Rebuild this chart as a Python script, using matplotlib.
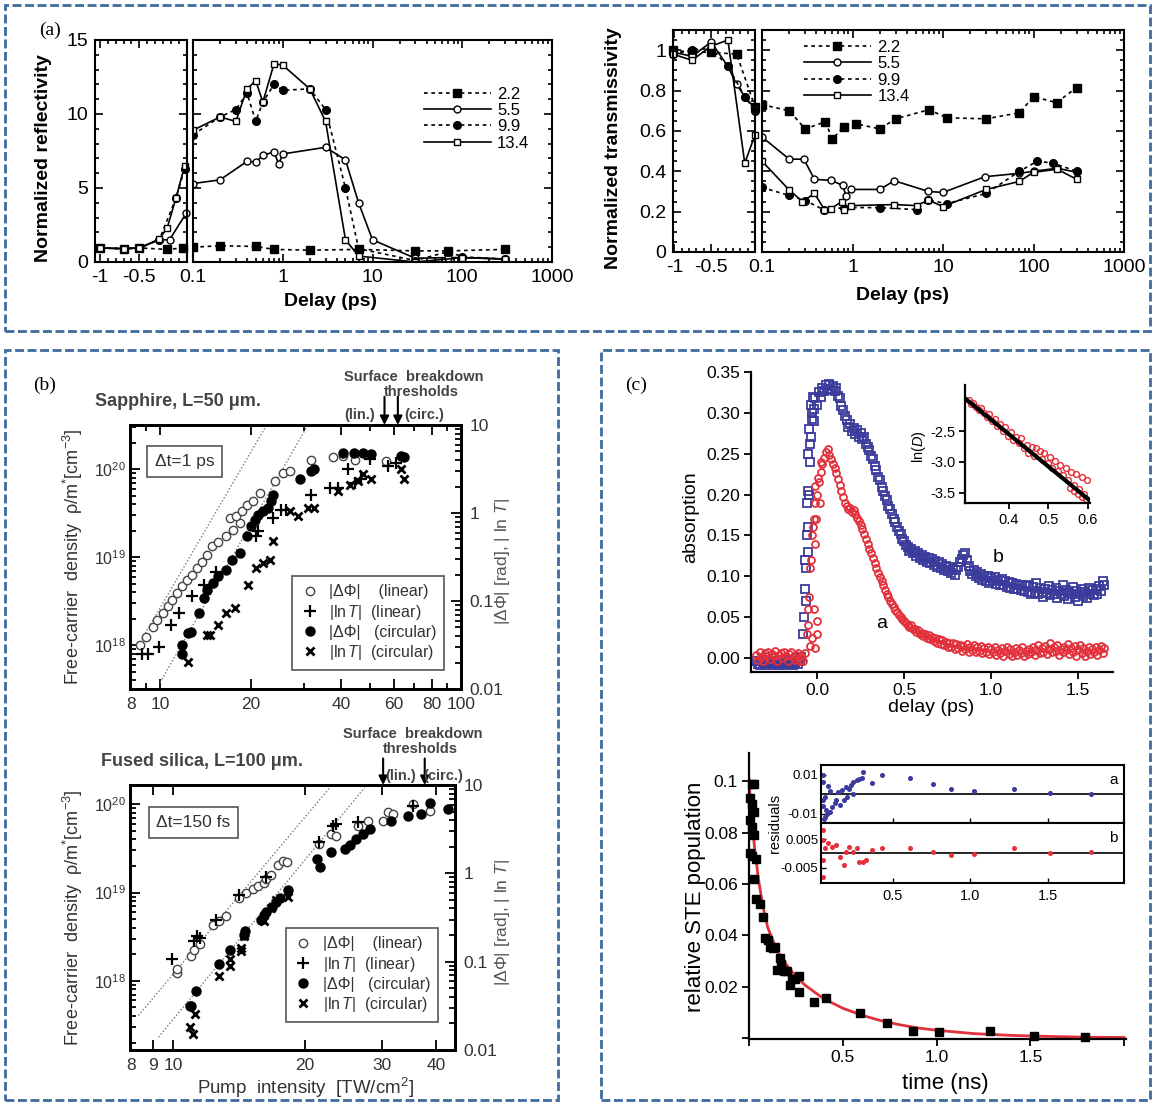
import numpy as np
import matplotlib
matplotlib.use('Agg')
import matplotlib.pyplot as plt
from matplotlib.patches import Rectangle
from matplotlib.ticker import MultipleLocator, NullFormatter, LogLocator, FixedLocator

plt.rcParams['font.family'] = ['Liberation Sans', 'DejaVu Sans']
plt.rcParams['mathtext.fontset'] = 'custom'
plt.rcParams['mathtext.rm'] = 'Liberation Sans'
plt.rcParams['mathtext.it'] = 'Liberation Sans:italic'
plt.rcParams['mathtext.bf'] = 'Liberation Sans:bold'
plt.rcParams['legend.numpoints'] = 1

# ---------------- (a) reflectivity / transmissivity vs delay ----------------
fluences = ['2.2', '5.5', '9.9', '13.4']

refl_neg_x = {'2.2': [-1.0, -0.7, -0.5, -0.15, 0.05],
              '5.5': [-1.0, -0.7, -0.5, -0.25, -0.12, 0.09],
              '9.9': [-1.0, -0.7, -0.5, -0.25, -0.04, 0.07],
              '13.4': [-1.0, -0.7, -0.5, -0.25, -0.15, -0.04, 0.07]}
refl_neg_y = {'2.2': [0.95, 0.9, 0.95, 0.85, 0.95],
              '5.5': [0.95, 0.9, 0.95, 1.5, 1.5, 3.3],
              '9.9': [0.95, 0.9, 0.95, 1.5, 4.3, 6.3],
              '13.4': [0.95, 0.9, 0.95, 1.55, 2.3, 4.3, 6.5]}
refl_pos_x = {'2.2': [0.1, 0.2, 0.5, 0.8, 2, 7, 30, 70, 300],
              '5.5': [0.1, 0.2, 0.4, 0.5, 0.6, 0.8, 0.9, 1.0, 3.0, 5.0, 7.0, 10, 30, 70, 100, 300],
              '9.9': [0.1, 0.2, 0.3, 0.4, 0.5, 0.6, 0.8, 1.0, 2.0, 3.0, 5.0, 7.0, 30, 70, 100, 300],
              '13.4': [0.1, 0.2, 0.3, 0.4, 0.5, 0.6, 0.8, 1.0, 2.0, 3.0, 5.0, 7.0, 30, 100, 300]}
refl_pos_y = {'2.2': [1.0, 1.1, 1.05, 0.85, 0.8, 0.85, 0.75, 0.75, 0.85],
              '5.5': [5.3, 5.55, 6.8, 6.75, 7.2, 7.45, 6.6, 7.3, 7.75, 6.9, 4.0, 1.5, 0.25, 0.3, 0.3, 0.2],
              '9.9': [8.6, 9.8, 10.3, 11.4, 9.5, 10.8, 12.0, 11.6, 11.7, 10.3, 5.0, 0.9, 0.1, 0.7, 0.35, 0.2],
              '13.4': [8.9, 9.8, 9.5, 11.7, 12.25, 10.8, 13.4, 13.3, 11.7, 9.5, 1.5, 0.4, 0.0, 0.3, 0.2]}

trans_neg_x = {'2.2': [-1.02, -0.76, -0.5, -0.15, 0.1],
               '5.5': [-1.02, -0.76, -0.5, -0.27, -0.15, -0.04, 0.1],
               '9.9': [-1.02, -0.76, -0.5, -0.27, -0.04, 0.1],
               '13.4': [-1.02, -0.76, -0.5, -0.27, -0.04, 0.1]}
trans_neg_y = {'2.2': [1.0, 0.99, 0.99, 0.98, 0.72],
               '5.5': [0.99, 0.97, 1.04, 0.92, 0.83, 0.77, 0.71],
               '9.9': [0.98, 1.0, 1.01, 0.92, 0.77, 0.7],
               '13.4': [0.98, 0.95, 1.02, 1.05, 0.44, 0.58]}
trans_pos_x = {'2.2': [0.1, 0.2, 0.3, 0.5, 0.6, 0.8, 1.1, 2.0, 3.0, 7.0, 11, 30, 70, 100, 180, 300],
               '5.5': [0.1, 0.2, 0.29, 0.38, 0.58, 0.78, 0.85, 0.97, 2.0, 2.9, 6.9, 10, 29, 70, 100, 183, 300],
               '9.9': [0.1, 0.2, 0.3, 0.49, 0.8, 2.0, 5.1, 6.9, 11, 30, 70, 110, 165, 300],
               '13.4': [0.1, 0.2, 0.28, 0.38, 0.49, 0.58, 0.76, 0.8, 0.97, 2.9, 5.1, 6.9, 10, 30, 70, 100, 183, 300]}
trans_pos_y = {'2.2': [0.73, 0.70, 0.61, 0.645, 0.56, 0.62, 0.635, 0.61, 0.66, 0.705, 0.665, 0.66, 0.69, 0.77, 0.74, 0.815],
               '5.5': [0.57, 0.46, 0.46, 0.36, 0.355, 0.33, 0.277, 0.31, 0.31, 0.353, 0.30, 0.295, 0.373, 0.39, 0.40, 0.415, 0.395],
               '9.9': [0.32, 0.28, 0.255, 0.208, 0.22, 0.22, 0.21, 0.257, 0.24, 0.29, 0.40, 0.45, 0.44, 0.40],
               '13.4': [0.45, 0.307, 0.25, 0.29, 0.21, 0.215, 0.25, 0.21, 0.23, 0.235, 0.23, 0.257, 0.225, 0.31, 0.35, 0.395, 0.41, 0.36]}

# ---------------- (b) free-carrier density vs pump intensity ----------------
sap_lin_phi_I = [8.58, 8.96, 9.46, 9.80, 10.2, 10.66, 11.0, 11.4, 11.86, 12.26, 12.73, 13.23, 13.74, 14.29, 14.84,
                 15.6, 16.56, 17.5, 18.4, 17.07, 17.95, 18.66, 19.5, 20.4, 21.5, 24.1, 25.6, 27.0, 31.8, 37.6, 40.5, 44.4, 56.5]
sap_lin_phi_rho = [1.01e18, 1.24e18, 1.64e18, 1.95e18, 2.32e18, 2.82e18, 3.3e18, 3.93e18, 4.68e18, 5.48e18, 6.36e18,
                   7.57e18, 8.87e18, 1.07e19, 1.34e19, 1.49e19, 1.74e19, 2.07e19, 2.47e19, 2.81e19, 2.94e19, 3.35e19,
                   3.99e19, 4.36e19, 5.42e19, 7.36e19, 9.16e19, 9.57e19, 1.28e20, 1.39e20, 1.42e20, 1.28e20, 1.24e20]
sap_lin_T_I = [8.7, 9.15, 9.95, 10.85, 11.6, 12.73, 14.0, 15.4, 20.9, 21.2, 23.8, 25.3, 26.3, 31.8, 36.6, 39.1, 42.2,
               44.4, 46.7, 49.8, 57.2, 61.0]
sap_lin_T_rho = [8.1e17, 8.1e17, 9.7e17, 1.71e18, 2.32e18, 3.66e18, 4.9e18, 6.9e18, 1.77e19, 1.98e19, 2.81e19, 3.5e19,
                 3.5e19, 5.19e19, 6.18e19, 6.18e19, 1.0e20, 7.05e19, 7.8e19, 1.3e20, 1.09e20, 1.19e20]
sap_circ_phi_I = [11.8, 11.8, 12.4, 12.7, 13.5, 14.0, 14.36, 15.0, 15.6, 16.6, 17.3, 18.4, 19.5, 20.0, 20.65, 21.2, 22.0,
                  22.9, 23.45, 23.8, 29.1, 31.8, 32.6, 40.5, 44.1, 47.2, 50.4, 63.4, 64.9]
sap_circ_phi_rho = [8.1e17, 1.0e18, 1.37e18, 1.44e18, 2.32e18, 3.44e18, 4.28e18, 5.1e18, 6.08e18, 7.25e18, 9.4e18,
                    1.12e19, 1.74e19, 2.26e19, 2.69e19, 3.07e19, 3.35e19, 3.66e19, 4.36e19, 5.19e19, 7.83e19, 9.57e19,
                    1.0e20, 1.55e20, 1.55e20, 1.55e20, 1.48e20, 1.44e20, 1.39e20]
sap_circ_T_I = [12.4, 14.29, 14.7, 15.6, 16.6, 17.7, 19.6, 20.9, 22.0, 23.2, 23.8, 27.0, 28.8, 31.0, 32.6, 39.1, 42.7,
                45.5, 47.2, 50.4, 63.4, 64.9]
sap_circ_T_rho = [6.5e17, 1.32e18, 1.32e18, 1.71e18, 2.32e18, 2.65e18, 4.9e18, 7.57e18, 8.6e18, 9.4e18, 1.52e19, 3.35e19,
                  2.94e19, 3.66e19, 3.66e19, 5.66e19, 6.74e19, 7.36e19, 8.77e19, 7.7e19, 1.0e20, 7.7e19]
sap_guide_I = [[8.47, 22.6], [10.0, 31.0]]
sap_guide_rho = [[1.0e18, 3.2e20], [3.8e17, 3.2e20]]
sap_thresholds = [55.7, 61.7]

fs_lin_phi_I = [10.2, 10.2, 11.0, 11.15, 11.5, 12.35, 12.7, 13.2, 14.1, 14.7, 15.2, 15.6, 16.1, 16.3, 16.7, 17.4, 17.8,
                18.2, 21.5, 23.0, 23.6, 26.5, 27.9, 30.2, 31.0, 31.8, 35.4, 38.6]
fs_lin_phi_rho = [1.24e18, 1.35e18, 1.91e18, 2.21e18, 2.62e18, 4.25e18, 4.71e18, 5.36e18, 8.6e18, 1.0e19, 1.11e19,
                  1.19e19, 1.27e19, 1.44e19, 1.57e19, 2.03e19, 2.25e19, 2.22e19, 3.56e19, 4.61e19, 4.42e19, 5.63e19,
                  6.5e19, 6.5e19, 8.07e19, 7.73e19, 1.0e20, 8.4e19]
fs_lin_T_I = [9.91, 11.15, 11.3, 11.5, 12.55, 14.1, 16.3, 21.5, 23.2, 23.6, 26.5, 35.4]
fs_lin_T_rho = [1.75e18, 2.81e18, 3.2e18, 3.06e18, 4.92e18, 9.4e18, 1.5e19, 3.72e19, 5.72e19, 5.97e19, 6.22e19, 9.6e19]
fs_circ_phi_I = [10.9, 11.0, 11.27, 12.7, 13.5, 14.5, 14.6, 15.9, 16.1, 16.3, 16.8, 17.2, 17.5, 18.3, 21.3, 21.6, 23.0,
                 24.7, 25.3, 26.2, 27.2, 28.2, 31.5, 34.4, 36.9, 38.6, 42.5]
fs_circ_phi_rho = [5.25e17, 5.25e17, 7.72e17, 1.54e18, 2.26e18, 3.34e18, 3.64e18, 4.92e18, 5.6e18, 6.1e18, 6.9e18,
                   7.9e18, 8.6e18, 1.07e19, 2.42e19, 1.95e19, 2.87e19, 3.13e19, 3.41e19, 4.05e19, 4.61e19, 5.25e19,
                   6.5e19, 7.4e19, 7.73e19, 1.04e20, 8.8e19]
fs_circ_T_I = [10.9, 11.07, 11.2, 12.7, 13.5, 13.5, 14.3, 14.3, 14.5, 16.1, 16.7, 17.2, 18.3]
fs_circ_T_rho = [3.0e17, 2.51e17, 4.2e17, 1.14e18, 1.75e18, 1.47e18, 2.37e18, 2.17e18, 3.2e18, 4.71e18, 6.64e18,
                 8.2e18, 8.98e18]
fs_guide_I = [[8.32, 22.8], [9.25, 27.4]]
fs_guide_rho = [[4.05e17, 1.54e20], [2.31e17, 1.54e20]]
fs_thresholds = [30.2, 37.6]

# ---------------- (c) transient absorption and STE population ----------------
delay_start, delay_step = -0.35, 0.01
absorp_b = [-0.004, -0.007, -0.008, -0.003, -0.005, -0.009, -0.006, -0.002, -0.007, -0.005,
            -0.008, -0.004, -0.006, -0.009, -0.003, -0.006, -0.008, -0.005, -0.002, -0.007,
            -0.004, -0.008, -0.006, -0.003, -0.007, -0.004, 0.001, 0.03, 0.085, 0.15,
            0.205, 0.262, 0.292, 0.305, 0.318, 0.31, 0.326, 0.32, 0.331, 0.327,
            0.334, 0.329, 0.335, 0.328, 0.333, 0.327, 0.33, 0.321, 0.318, 0.309,
            0.304, 0.296, 0.291, 0.283, 0.286, 0.278, 0.281, 0.274, 0.279, 0.271,
            0.275, 0.268, 0.27, 0.262, 0.258, 0.255, 0.247, 0.243, 0.235, 0.23,
            0.222, 0.218, 0.209, 0.205, 0.198, 0.193, 0.186, 0.183, 0.176, 0.17,
            0.166, 0.16, 0.155, 0.152, 0.146, 0.143, 0.138, 0.136, 0.131, 0.134,
            0.128, 0.131, 0.125, 0.129, 0.122, 0.126, 0.12, 0.124, 0.118, 0.123,
            0.116, 0.121, 0.114, 0.119, 0.112, 0.117, 0.11, 0.115, 0.108, 0.113,
            0.106, 0.111, 0.104, 0.109, 0.102, 0.108, 0.111, 0.117, 0.121, 0.126,
            0.129, 0.12, 0.113, 0.107, 0.103, 0.108, 0.1, 0.105, 0.098, 0.103,
            0.096, 0.101, 0.094, 0.1, 0.092, 0.098, 0.094, 0.099, 0.091, 0.096,
            0.09, 0.097, 0.089, 0.094, 0.087, 0.093, 0.086, 0.092, 0.085, 0.091,
            0.084, 0.09, 0.083, 0.089, 0.082, 0.088, 0.081, 0.089, 0.079, 0.087,
            0.08, 0.092, 0.078, 0.086, 0.081, 0.075, 0.085, 0.08, 0.088, 0.077,
            0.083, 0.079, 0.086, 0.074, 0.082, 0.078, 0.089, 0.076, 0.083, 0.072,
            0.081, 0.078, 0.087, 0.075, 0.082, 0.07, 0.079, 0.084, 0.076, 0.081,
            0.073, 0.086, 0.079, 0.083, 0.077, 0.085, 0.079, 0.088, 0.082, 0.094,
            0.09]
absorp_a = [0.004, -0.002, 0.007, 0.001, -0.004, 0.006, 0.002, 0.008, -0.001, 0.005,
            0.003, 0.009, -0.003, 0.004, 0.006, 0.0, 0.007, 0.002, -0.004, 0.005,
            0.008, 0.001, -0.002, 0.004, 0.006, -0.003, 0.002, -0.004, 0.006, 0.03,
            0.06, 0.11, 0.15, 0.17, 0.19, 0.2, 0.215, 0.228, 0.238, 0.245,
            0.252, 0.256, 0.249, 0.243, 0.238, 0.232, 0.226, 0.219, 0.212, 0.205,
            0.197, 0.19, 0.186, 0.182, 0.184, 0.179, 0.181, 0.176, 0.172, 0.168,
            0.163, 0.158, 0.152, 0.146, 0.14, 0.134, 0.128, 0.122, 0.116, 0.11,
            0.104, 0.099, 0.094, 0.089, 0.083, 0.079, 0.075, 0.07, 0.066, 0.063,
            0.059, 0.056, 0.053, 0.05, 0.048, 0.045, 0.043, 0.041, 0.038, 0.04,
            0.035, 0.036, 0.032, 0.034, 0.029, 0.031, 0.027, 0.03, 0.025, 0.028,
            0.023, 0.026, 0.021, 0.024, 0.019, 0.023, 0.017, 0.022, 0.016, 0.02,
            0.014, 0.019, 0.013, 0.018, 0.011, 0.017, 0.012, 0.016, 0.009, 0.015,
            0.011, 0.017, 0.008, 0.014, 0.01, 0.016, 0.007, 0.013, 0.009, 0.015,
            0.006, 0.012, 0.008, 0.014, 0.005, 0.011, 0.007, 0.013, 0.004, 0.01,
            0.006, 0.012, 0.003, 0.009, 0.013, 0.005, 0.011, 0.002, 0.008, 0.012,
            0.004, 0.01, 0.006, 0.013, 0.003, 0.009, 0.005, 0.011, 0.007, 0.014,
            0.004, 0.01, 0.016, 0.006, 0.012, 0.008, 0.015, 0.005, 0.011, 0.018,
            0.007, 0.013, 0.009, 0.016, 0.004, 0.011, 0.007, 0.014, 0.01, 0.017,
            0.005, 0.012, 0.008, 0.015, 0.003, 0.01, 0.016, 0.006, 0.012, 0.002,
            0.009, 0.014, 0.005, 0.011, 0.007, 0.013, 0.004, 0.01, 0.015, 0.006,
            0.012]
rise_b_t = [-0.075, -0.07, -0.065, -0.065, -0.06, -0.055, -0.055, -0.05, -0.045, -0.045, -0.04, -0.035, -0.035, -0.03, -0.025, -0.02]
rise_b_v = [0.05, 0.12, 0.07, 0.11, 0.19, 0.13, 0.16, 0.25, 0.2, 0.28, 0.24, 0.31, 0.27, 0.3, 0.32, 0.29]
rise_a_t = [-0.055, -0.045, -0.035, -0.03, -0.025, -0.02, -0.015, -0.01, -0.005, 0.0, 0.005, 0.015, 0.025, -0.04, -0.01, 0.0]
rise_a_v = [0.04, 0.075, 0.12, 0.025, 0.16, 0.06, 0.14, 0.21, 0.17, 0.03, 0.22, 0.19, 0.24, 0.015, 0.012, 0.045]

lnD_t = [0.300, 0.305, 0.31, 0.318, 0.325, 0.33, 0.338, 0.345, 0.35, 0.358, 0.365, 0.37, 0.378, 0.385, 0.39, 0.398,
         0.405, 0.41, 0.418, 0.425, 0.43, 0.438, 0.445, 0.45, 0.458, 0.465, 0.47, 0.478, 0.485, 0.49, 0.498, 0.505,
         0.51, 0.518, 0.525, 0.53, 0.538, 0.545, 0.55, 0.558, 0.565, 0.57, 0.578, 0.585, 0.59, 0.598,
         0.555, 0.565, 0.575, 0.585, 0.595]
lnD_v = [-2.0, -2.06, -2.04, -2.1, -2.16, -2.12, -2.2, -2.27, -2.22, -2.33, -2.3, -2.41, -2.38, -2.5, -2.44, -2.58,
         -2.52, -2.65, -2.6, -2.7, -2.62, -2.78, -2.72, -2.86, -2.76, -2.9, -2.78, -2.82, -2.95, -2.86, -3.02, -2.92,
         -3.1, -2.98, -3.15, -3.05, -3.22, -3.1, -3.3, -3.16, -3.38, -3.2, -3.45, -3.25, -3.52, -3.3,
         -3.42, -3.48, -3.52, -3.58, -3.6]
lnD_fit_t = [0.29, 0.605]
lnD_fit_v = [-1.967, -3.63]

ste_t = [0.015, 0.025, 0.005, 0.015, 0.025, 0.005, 0.015, 0.025, 0.005, 0.015, 0.035, 0.025, 0.035, 0.06, 0.076,
         0.086, 0.102, 0.112, 0.126, 0.136, 0.163, 0.173, 0.15, 0.187, 0.203, 0.217, 0.231, 0.247, 0.264, 0.268,
         0.344, 0.409, 0.591, 0.736, 0.874, 1.015, 1.284, 1.52, 1.793]
ste_pop = [0.099, 0.099, 0.0935, 0.091, 0.088, 0.085, 0.082, 0.079, 0.072, 0.071, 0.0697, 0.062, 0.054, 0.052, 0.047,
           0.039, 0.038, 0.0355, 0.035, 0.0355, 0.031, 0.029, 0.0265, 0.026, 0.026, 0.0206, 0.023, 0.023, 0.024, 0.018,
           0.0142, 0.0155, 0.0097, 0.0058, 0.0028, 0.0022, 0.0028, 0.0006, 0.0004]
fit_t = [0.0, 0.01, 0.02, 0.03, 0.05, 0.075, 0.1, 0.15, 0.2, 0.25, 0.3, 0.4, 0.5, 0.6, 0.7, 0.8, 0.9, 1.0, 1.2, 1.4,
         1.6, 1.8, 2.0]
fit_pop = [0.101, 0.09, 0.081, 0.074, 0.062, 0.051, 0.043, 0.034, 0.0285, 0.024, 0.0205, 0.0152, 0.0116, 0.0089,
           0.0068, 0.0052, 0.0039, 0.003, 0.0017, 0.001, 0.0006, 0.0003, 0.0002]

res_a_t = [0.049, 0.049, 0.061, 0.049, 0.061, 0.073, 0.11, 0.134, 0.159, 0.183, 0.146, 0.171, 0.195, 0.22, 0.232,
           0.244, 0.268, 0.28, 0.3, 0.305, 0.244, 0.366, 0.085, 0.207, 0.432, 0.61, 0.756, 0.878, 1.024, 1.28, 1.51,
           1.78, 0.052, 0.056, 0.068, 0.095, 0.125, 0.098]
res_a_v = [0.0098, 0.0064, -0.0014, -0.0031, -0.0117, -0.01, -0.0066, -0.0031, -0.0057, -0.0031, 0.0012, 0.0021,
           0.0038, 0.0029, 0.0047, 0.0064, 0.0072, 0.0076, 0.0081, 0.0116, 0.0003, 0.0059, 0.004, -0.0014, 0.0098,
           0.0081, 0.0052, 0.0026, 0.0017, 0.0026, 0.0007, 0.0003, -0.006, -0.013, -0.008, -0.009, -0.0045, 0.0015]
res_b_t = [0.049, 0.049, 0.061, 0.049, 0.049, 0.085, 0.11, 0.134, 0.159, 0.183, 0.195, 0.22, 0.244, 0.268, 0.28,
           0.305, 0.329, 0.366, 0.427, 0.61, 0.756, 0.878, 1.024, 1.28, 1.51, 1.78]
res_b_v = [0.0083, 0.0048, 0.0018, -0.0024, -0.0083, 0.0036, 0.0024, 0.003, -0.0012, -0.0042, 0.0006, 0.0024, 0.0006,
           0.0018, -0.003, -0.003, -0.0024, 0.0012, 0.0018, 0.0018, 0.0006, -0.0006, -0.0002, 0.002, 0.0, 0.0004]

# ---------------------------------------------------------------------------
W, H = 1154, 1109
fig = plt.figure(figsize=(W / 100, H / 100), dpi=100)

def px_axes(x0, y0, x1, y1):
    return fig.add_axes([x0 / W, 1 - y1 / H, (x1 - x0) / W, (y1 - y0) / H])

def px_text(x, y, s, **kw):
    kw.setdefault('ha', 'center')
    kw.setdefault('va', 'center')
    return fig.text(x / W, 1 - y / H, s, **kw)

box_color = '#3f6b9e'
for (x0, y0, x1, y1) in [(5, 5, 1150, 331), (5, 350, 558, 1100), (601, 350, 1150, 1100)]:
    fig.add_artist(Rectangle((x0 / W, 1 - y1 / H), (x1 - x0) / W, (y1 - y0) / H, transform=fig.transFigure,
                             fill=False, ec=box_color, lw=2.0, ls=(0, (3.2, 1.3))))

px_text(50, 30, '(a)', family='Liberation Serif', fontsize=14)
px_text(45, 385, '(b)', family='Liberation Serif', fontsize=14)
px_text(636, 385, '(c)', family='Liberation Serif', fontsize=14)

dots = (0, (2.2, 2.2))
series_style = {'2.2': dict(ls=dots, marker='s', mfc='k', ms=5.5),
                '5.5': dict(ls='-', marker='o', mfc='white', ms=5),
                '9.9': dict(ls=dots, marker='o', mfc='k', ms=5.5),
                '13.4': dict(ls='-', marker='s', mfc='white', ms=4.5)}


def style_a(ax):
    for s in ax.spines.values():
        s.set_linewidth(1.5)
    ax.tick_params(which='both', direction='in', top=True, right=True, width=1.2, labelsize=14, pad=5)
    ax.tick_params(which='major', length=6)
    ax.tick_params(which='minor', length=3)


def delay_panel(neg_box, pos_box, y0, y1, ylim, negxlim, ymaj, ymin, ylabels, negx, negy, posx, posy,
                ylabel, ylab_xy, xlab_xy, leg_anchor):
    axl = px_axes(neg_box[0], y0, neg_box[1], y1)
    axr = px_axes(pos_box[0], y0, pos_box[1], y1)
    for f in fluences:
        st = series_style[f]
        axl.plot(negx[f], negy[f], color='k', lw=1.2, mec='k', mew=1, clip_on=False, **st)
        axr.plot(posx[f], posy[f], color='k', lw=1.2, mec='k', mew=1, label=f, **st)
    for ax in (axl, axr):
        ax.set_ylim(*ylim)
        ax.yaxis.set_major_locator(FixedLocator(ymaj))
        ax.yaxis.set_minor_locator(MultipleLocator(ymin))
        style_a(ax)
    axl.set_xlim(*negxlim)
    axl.set_xticks([-1, -0.5])
    axl.set_xticklabels(['-1', '-0.5'])
    axl.xaxis.set_minor_locator(MultipleLocator(0.1))
    axl.set_yticklabels(ylabels)
    axr.set_xscale('log')
    axr.set_xlim(0.1, 1000)
    axr.set_xticks([0.1, 1, 10, 100, 1000])
    axr.set_xticklabels(['0.1', '1', '10', '100', '1000'])
    axr.xaxis.set_minor_locator(LogLocator(subs=np.arange(2, 10)))
    axr.xaxis.set_minor_formatter(NullFormatter())
    axr.tick_params(labelleft=False)
    axr.legend(loc='upper left', bbox_to_anchor=leg_anchor, frameon=False, fontsize=12, handlelength=4.0,
               handletextpad=0.4, labelspacing=0.08, borderpad=0, borderaxespad=0)
    px_text(*ylab_xy, ylabel, rotation=90, fontsize=14, fontweight='bold')
    px_text(*xlab_xy, 'Delay (ps)', fontsize=14, fontweight='bold')


delay_panel((95, 187), (193, 552), 40, 262, (0, 15), (-1.06, 0.1), [0, 5, 10, 15], 1,
            ['0', '5', '10', '15'], refl_neg_x, refl_neg_y, refl_pos_x, refl_pos_y,
            'Normalized reflectivity', (44, 158), (331, 302), (0.643, 0.79))
delay_panel((673, 755), (762, 1124), 30, 252, (0, 1.1), (-1.02, 0.1), [0, 0.2, 0.4, 0.6, 0.8, 1.0], 0.05,
            ['0', '0.2', '0.4', '0.6', '0.8', '1'], trans_neg_x, trans_neg_y, trans_pos_x, trans_pos_y,
            'Normalized transmissivity', (613, 148), (903, 295), (0.116, 0.955))

# ---------------- (b) ----------------
grey = '#333333'


def breakdown_panel(box, xlim, ylim, scale, xticks, data, guides, thresholds, dt_text, dt_xy, title, title_xy,
                    head_xy, arrow_from, lin_xy, circ_xy, leg_anchor, xlabel=None):
    ax = px_axes(*box)
    ax.set_xscale('log')
    ax.set_yscale('log')
    gx, gy = guides
    for xs, ys in zip(gx, gy):
        ax.plot(xs, ys, color='#777777', lw=1.0, ls=(0, (1, 1.5)))
    (lpI, lpR), (ltI, ltR), (cpI, cpR), (ctI, ctR) = data
    h1, = ax.plot(lpI, lpR, 'o', mfc='white', mec='#444444', mew=1.0, ms=6, ls='none')
    h2, = ax.plot(ltI, ltR, '+', color='k', mew=1.6, ms=8, ls='none')
    h3, = ax.plot(cpI, cpR, 'o', color='k', ms=6.5, ls='none')
    h4, = ax.plot(ctI, ctR, 'x', color='k', mew=2.0, ms=5.5, ls='none')
    ax.set_xlim(*xlim)
    ax.set_ylim(*ylim)
    ax.set_xticks(xticks)
    ax.set_xticklabels([str(v) for v in xticks])
    ax.xaxis.set_minor_locator(LogLocator(subs=np.arange(2, 10)))
    ax.xaxis.set_minor_formatter(NullFormatter())
    ax.yaxis.set_major_locator(LogLocator(numticks=10))
    ax.yaxis.set_minor_locator(LogLocator(subs=np.arange(2, 10), numticks=10))
    ax.yaxis.set_minor_formatter(NullFormatter())
    for s in ax.spines.values():
        s.set_linewidth(2.0)
    ax.tick_params(which='both', direction='in', top=True, right=False, width=1.3, labelsize=12.5,
                   labelcolor=grey, pad=6)
    ax.tick_params(which='major', length=7)
    ax.tick_params(which='minor', length=4)
    ax.tick_params(axis='y', labelsize=11.5, pad=3)

    ax2 = ax.twinx()
    ax2.set_yscale('log')
    ax2.set_ylim(ylim[0] / scale, ylim[1] / scale)
    ax2.set_yticks([0.01, 0.1, 1, 10])
    ax2.set_yticklabels(['0.01', '0.1', '1', '10'])
    ax2.yaxis.set_minor_locator(LogLocator(subs=np.arange(2, 10), numticks=10))
    ax2.yaxis.set_minor_formatter(NullFormatter())
    ax2.tick_params(which='both', direction='in', width=1.3, labelsize=12.5, labelcolor=grey, pad=6)
    ax2.tick_params(which='major', length=7)
    ax2.tick_params(which='minor', length=4)
    for s in ax2.spines.values():
        s.set_linewidth(2.0)

    ax.legend([h1, h2, h3, h4],
              ['|ΔΦ|    (linear)', r'$|\mathrm{ln}\,T|$  (linear)', '|ΔΦ|   (circular)', r'$|\mathrm{ln}\,T|$  (circular)'],
              loc='lower right', bbox_to_anchor=leg_anchor, fontsize=11.5, frameon=True, fancybox=False,
              edgecolor='#555555', framealpha=1, borderpad=0.5, labelspacing=0.2, handletextpad=0.6,
              handlelength=1.2, borderaxespad=0)
    leg = ax.get_legend()
    leg.get_frame().set_linewidth(1.2)
    for t in leg.get_texts():
        t.set_color(grey)

    px_text(*dt_xy, dt_text, fontsize=12.5, color=grey,
            bbox=dict(boxstyle='square,pad=0.45', fc='white', ec='#555555', lw=1.2))
    px_text(*title_xy, title, fontsize=13, fontweight='bold', color='#444444')
    px_text(head_xy[0], head_xy[1], 'Surface  breakdown', fontsize=10.5, fontweight='bold', color='#444444')
    px_text(head_xy[0] + 7, head_xy[1] + 15, 'thresholds', fontsize=10.5, fontweight='bold', color='#444444')
    px_text(*lin_xy, '(lin.)', fontsize=10.5, fontweight='bold', color='#444444')
    px_text(*circ_xy, '(circ.)', fontsize=10.5, fontweight='bold', color='#444444')
    for thr in thresholds:
        ax.annotate('', xy=(thr, 1.0), xycoords=('data', 'axes fraction'),
                    xytext=(thr, arrow_from), textcoords=('data', 'axes fraction'),
                    arrowprops=dict(arrowstyle='-|>', color='k', lw=1.5, mutation_scale=13, shrinkA=0, shrinkB=0),
                    annotation_clip=False)
    ytop, ybot = box[1], box[3]
    px_text(73, (ytop + ybot) / 2, r'Free-carrier  density  ρ/m$^{*}$[cm$^{-3}$]', rotation=90, fontsize=13,
            color=grey)
    px_text(503, (ytop + ybot) / 2 + 5, r'|ΔΦ| [rad], | ln $T$|', rotation=90, fontsize=12.5, color='#555555')
    if xlabel:
        px_text(306, 1088, xlabel, fontsize=13.5, color=grey)
    return ax


breakdown_panel((130, 425, 461, 689), (7.95, 100), (3.2e17, 3.2e20), 3.2e19, [8, 10, 20, 40, 60, 80, 100],
                [(sap_lin_phi_I, sap_lin_phi_rho), (sap_lin_T_I, sap_lin_T_rho),
                 (sap_circ_phi_I, sap_circ_phi_rho), (sap_circ_T_I, sap_circ_T_rho)],
                (sap_guide_I, sap_guide_rho), sap_thresholds, 'Δt=1 ps', (184.5, 461.5),
                'Sapphire, L=50 μm.', (178, 402), (414, 377), 1.107, (360, 415), (424, 415), (0.95, 0.072))
breakdown_panel((130, 785, 455, 1050), (7.96, 44.1), (1.65e17, 1.65e20), 1.65e19, [8, 9, 10, 20, 30, 40],
                [(fs_lin_phi_I, fs_lin_phi_rho), (fs_lin_T_I, fs_lin_T_rho),
                 (fs_circ_phi_I, fs_circ_phi_rho), (fs_circ_T_I, fs_circ_T_rho)],
                (fs_guide_I, fs_guide_rho), fs_thresholds, 'Δt=150 fs', (193.5, 822.5),
                'Fused silica, L=100 μm.', (202, 762), (413, 734), 1.10, (401, 776), (443, 776), (0.948, 0.106),
                xlabel=r'Pump  intensity  [TW/cm$^2$]')

# ---------------- (c) ----------------
blue = '#3b3b9c'
red = '#e2313b'


def style_c(ax, size):
    for side in ('top', 'right'):
        ax.spines[side].set_visible(False)
    for side in ('left', 'bottom'):
        ax.spines[side].set_linewidth(1.6)
    ax.tick_params(direction='out', width=1.3, length=5, labelsize=size, pad=3)


ax_abs = px_axes(751, 372, 1113, 672)
delay = np.round(delay_start + delay_step * np.arange(len(absorp_b)), 2)
mk = dict(mfc='none', mew=1.3, ls='none')
ax_abs.plot(delay, absorp_b, 's', mec=blue, ms=5.2, clip_on=False, **mk)
ax_abs.plot(rise_b_t, rise_b_v, 's', mec=blue, ms=5.2, **mk)
ax_abs.plot(delay[:len(absorp_a)], absorp_a, 'o', mec=red, ms=5.0, clip_on=False, **mk)
ax_abs.plot(rise_a_t, rise_a_v, 'o', mec=red, ms=5.0, **mk)
ax_abs.set_xlim(-0.38, 1.70)
ax_abs.set_ylim(-0.017, 0.35)
ax_abs.set_yticks(np.arange(0, 0.351, 0.05))
ax_abs.set_yticklabels(['%.2f' % v for v in np.arange(0, 0.351, 0.05)])
ax_abs.set_xticks([0.0, 0.5, 1.0, 1.5])
ax_abs.set_xticklabels(['0.0', '0.5', '1.0', '1.5'])
style_c(ax_abs, 12.5)
px_text(691, 517, 'absorption', rotation=90, fontsize=14)
px_text(931, 708, 'delay (ps)', fontsize=14)
ax_abs.text(0.37, 0.042, 'a', fontsize=14, ha='center', va='center')
ax_abs.text(1.04, 0.123, 'b', fontsize=14, ha='center', va='center')

ax_ln = px_axes(965, 385, 1090, 503)
ax_ln.patch.set_alpha(0)
ax_ln.plot(lnD_t, lnD_v, 'o', mfc='none', mec=red, mew=1.0, ms=4.2, ls='none')
ax_ln.plot(lnD_fit_t, lnD_fit_v, color='k', lw=3)
ax_ln.set_xlim(0.29, 0.605)
ax_ln.set_ylim(-3.67, -1.75)
ax_ln.set_xticks([0.4, 0.5, 0.6])
ax_ln.set_xticklabels(['0.4', '0.5', '0.6'])
ax_ln.set_yticks([-2.5, -3.0, -3.5])
ax_ln.set_yticklabels(['-2.5', '-3.0', '-3.5'])
style_c(ax_ln, 10.5)
ax_ln.tick_params(length=4)
px_text(919, 447, r'ln($D$)', rotation=90, fontsize=10.5)

ax_ste = px_axes(749, 753, 1126, 1039)
ax_ste.plot(fit_t, fit_pop, color=red, lw=2.0, zorder=2)
ax_ste.plot(ste_t, ste_pop, 's', color='k', ms=5.5, ls='none', zorder=3, clip_on=False)
ax_ste.set_xlim(0, 2.01)
ax_ste.set_ylim(-0.0004, 0.111)
ax_ste.set_xticks([0, 0.5, 1.0, 1.5, 2.0])
ax_ste.set_xticklabels(['', '0.5', '1.0', '1.5', ''])
ax_ste.set_yticks([0, 0.02, 0.04, 0.06, 0.08, 0.1])
ax_ste.set_yticklabels(['', '0.02', '0.04', '0.06', '0.08', '0.1'])
style_c(ax_ste, 12.5)
px_text(695, 897, 'relative STE population', rotation=90, fontsize=16)
px_text(945, 1083, 'time (ns)', fontsize=16)

ax_ra = px_axes(821, 765, 1124, 823.3)
ax_rb = px_axes(821, 823.3, 1124, 883)
for ax, ts, vs, col, lim, tk, tl, tag in [
        (ax_ra, res_a_t, res_a_v, blue, (-0.015, 0.015), [-0.01, 0.01], ['-0.01', '0.01'], 'a'),
        (ax_rb, res_b_t, res_b_v, red, (-0.0105, 0.0107), [-0.005, 0.005], ['-0.005', '0.005'], 'b')]:
    ax.set_facecolor('white')
    ax.axhline(0, color='k', lw=1.2)
    ax.plot(ts, vs, 'o', color=col, ms=2.6, ls='none')
    ax.set_xlim(0.037, 1.99)
    ax.set_ylim(*lim)
    ax.set_yticks(tk)
    ax.set_yticklabels(tl)
    ax.set_xticks([0.5, 1.0, 1.5])
    for s in ax.spines.values():
        s.set_linewidth(1.5)
    ax.tick_params(direction='in', width=1.0, length=3.5, labelsize=9.5, pad=2)
    ax.text(0.965, 0.75, tag, transform=ax.transAxes, fontsize=11, ha='center', va='center')
ax_ra.set_xticklabels([])
ax_rb.set_xticklabels(['0.5', '1.0', '1.5'])
ax_rb.tick_params(axis='x', labelsize=10.5, pad=4)
px_text(775, 823, 'residuals', rotation=90, fontsize=10.5)

fig.savefig('out.png', dpi=100)
